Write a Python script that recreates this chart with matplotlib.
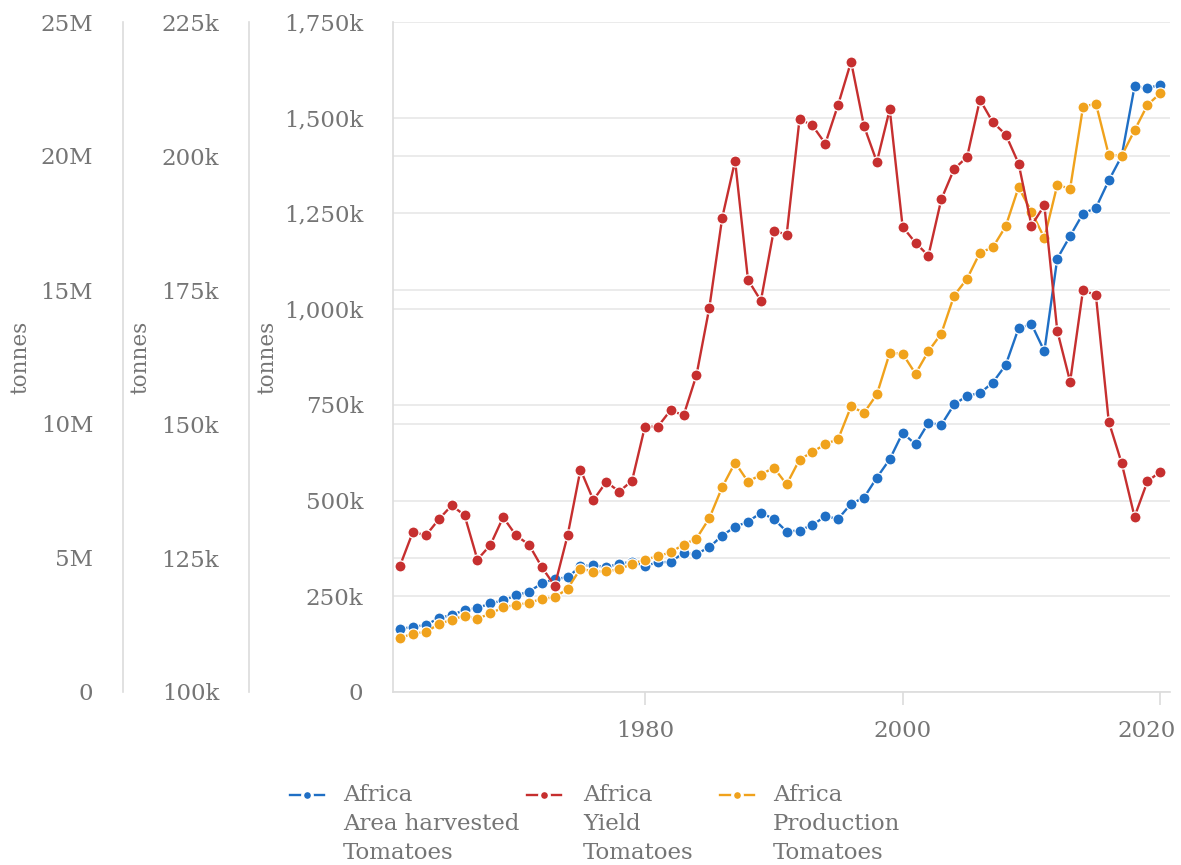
import matplotlib
matplotlib.use("Agg")
import matplotlib.pyplot as plt
from matplotlib.lines import Line2D
from matplotlib.ticker import FuncFormatter
from matplotlib.transforms import ScaledTranslation

# données (Afrique, tomates)
years = list(range(1961, 2021))
area_harvested = [164.3, 170.3, 174.7, 193.1, 200.9, 214.0, 219.3, 231.3, 239.2, 252.3,
                  262.0, 283.7, 295.3, 299.4, 328.3, 331.9, 325.6, 335.3, 339.8, 329.3,
                  338.7, 339.8, 363.4, 360.7, 378.0, 408.7, 431.5, 444.6, 468.2, 451.9,
                  419.2, 421.8, 436.7, 458.5, 452.4, 491.7, 507.5, 559.9, 607.8, 676.7,
                  647.1, 702.9, 697.7, 751.1, 773.6, 780.7, 808.2, 854.1, 950.2, 960.9,
                  890.2, 1131.8, 1191.2, 1249.7, 1264.6, 1336.1, 1399.8, 1581.6, 1577.1, 1585.8]
yield_hg = [123.6, 129.9, 129.2, 132.2, 134.8, 133.0, 124.7, 127.4, 132.6, 129.2,
            127.5, 123.3, 119.8, 129.2, 141.5, 135.8, 139.2, 137.4, 139.4, 149.5,
            149.5, 152.6, 151.6, 159.1, 171.7, 188.5, 199.1, 176.9, 173.0, 186.1,
            185.3, 206.9, 205.7, 202.3, 209.6, 217.6, 205.6, 198.9, 208.7, 186.8,
            183.8, 181.4, 191.9, 197.6, 199.8, 210.5, 206.3, 204.0, 198.6, 187.0,
            190.8, 167.4, 157.9, 175.0, 174.0, 150.4, 142.7, 132.7, 139.3, 141.1]
production = [2.010, 2.182, 2.234, 2.534, 2.695, 2.844, 2.732, 2.930, 3.155, 3.256,
              3.320, 3.481, 3.529, 3.855, 4.603, 4.491, 4.502, 4.577, 4.779, 4.940,
              5.064, 5.213, 5.501, 5.726, 6.486, 7.646, 8.559, 7.848, 8.110, 8.372,
              7.747, 8.671, 8.956, 9.244, 9.442, 10.655, 10.415, 11.104, 12.650, 12.623,
              11.875, 12.713, 13.372, 14.794, 15.419, 16.392, 16.590, 17.377, 18.836, 17.915,
              16.942, 18.911, 18.787, 21.830, 21.957, 20.034, 20.011, 20.958, 21.905, 22.343]
area_harvested = [v * 1e3 for v in area_harvested]
yield_hg = [v * 1e3 for v in yield_hg]
production = [v * 1e6 for v in production]

labels = ["Africa\nArea harvested\nTomatoes", "Africa\nYield\nTomatoes", "Africa\nProduction\nTomatoes"]
colors = ["#1f6fc5", "#c62f2f", "#f0a21c"]
x_ticks = [1980, 2000, 2020]
area_ticks = list(range(0, 1750001, 250000))
yield_ticks = list(range(100000, 225001, 25000))
prod_ticks = list(range(0, 25000001, 5000000))

plt.rcParams['font.family'] = ['DejaVu Serif']
W, H = 1181, 865
txt = '#757575'
line_c = '#dcdcdc'
grid_c = '#e8e8e8'
fs = 16.5

fig = plt.figure(figsize=(W / 100, H / 100), dpi=100)
ax = fig.add_axes([393 / W, 1 - 692 / H, 777 / W, 670 / H])
ax_prod = ax.twinx()
ax_yield = ax.twinx()

def fmt_k(v, pos):
    return '0' if v == 0 else f'{v / 1000:,.0f}k'

def fmt_m(v, pos):
    return '0' if v == 0 else f'{v / 1e6:.0f}M'

# axe principal : surface récoltée
ax.set_xlim(1960.45, 2020.75)
ax.set_ylim(0, 1750000)
ax.set_yticks(area_ticks)
ax.yaxis.set_major_formatter(FuncFormatter(fmt_k))
ax.set_xticks(x_ticks)
ax.grid(axis='y', color=grid_c, lw=1.2)
for t in prod_ticks[1:-1]:
    ax.axhline(t / prod_ticks[-1] * area_ticks[-1], color=grid_c, lw=1.2, zorder=0.5)
ax.set_axisbelow(True)
for s in ['top', 'right']:
    ax.spines[s].set_visible(False)
for s in ['left', 'bottom']:
    ax.spines[s].set_color(line_c)
    ax.spines[s].set_linewidth(1.2)
ax.tick_params(axis='y', length=0, pad=21.5, labelsize=fs, labelcolor=txt)
ax.tick_params(axis='x', length=9.5, width=1.2, color=line_c, pad=11, labelsize=fs, labelcolor=txt)
# le dernier libellé est décalé vers la gauche pour rester dans l'image
last = ax.get_xticklabels()[-1]
last.set_transform(last.get_transform() + ScaledTranslation(-0.14, 0, fig.dpi_scale_trans))
ax.plot(years, area_harvested, '-o', color=colors[0], lw=1.7, ms=8, mec='white', mew=0.9)

# axes secondaires
for a, lim, ticks, fmt, off, data, c in [
        (ax_prod, (0, 25e6), prod_ticks, fmt_m, -0.3475, production, colors[2]),
        (ax_yield, (100000, 225000), yield_ticks, fmt_k, -0.1853, yield_hg, colors[1])]:
    a.set_ylim(*lim)
    a.set_yticks(ticks)
    a.yaxis.set_major_formatter(FuncFormatter(fmt))
    a.yaxis.set_ticks_position('left')
    a.yaxis.set_label_position('left')
    for s in ['top', 'right', 'bottom']:
        a.spines[s].set_visible(False)
    a.spines['left'].set_position(('axes', off))
    a.spines['left'].set_color(line_c)
    a.spines['left'].set_linewidth(1.2)
    a.tick_params(axis='y', length=0, pad=21.5, labelsize=fs, labelcolor=txt)
    a.plot(years, data, '-o', color=c, lw=1.7, ms=8, mec='white', mew=0.9)

for a, xl in [(ax_prod, -0.480), (ax_yield, -0.3256), (ax, -0.1622)]:
    a.set_ylabel('tonnes', fontsize=15.5, color=txt)
    a.yaxis.set_label_coords(xl, 0.5)
    a.yaxis.label.set_va('center')

# légende
hx = [290, 527, 720]
tx = [343, 583, 773]
for i in range(3):
    fig.add_artist(Line2D([hx[i] / W, (hx[i] + 34) / W], [1 - 795 / H] * 2, color=colors[i],
                          lw=1.7, transform=fig.transFigure))
    fig.add_artist(Line2D([(hx[i] + 17) / W], [1 - 795 / H], color=colors[i], marker='o', ms=7,
                          mec='white', mew=2.2, transform=fig.transFigure))
    fig.text(tx[i] / W, 1 - 784 / H, labels[i], fontsize=fs, color=txt, va='top',
             ha='left', linespacing=1.4)

fig.savefig('out.png', dpi=100)
